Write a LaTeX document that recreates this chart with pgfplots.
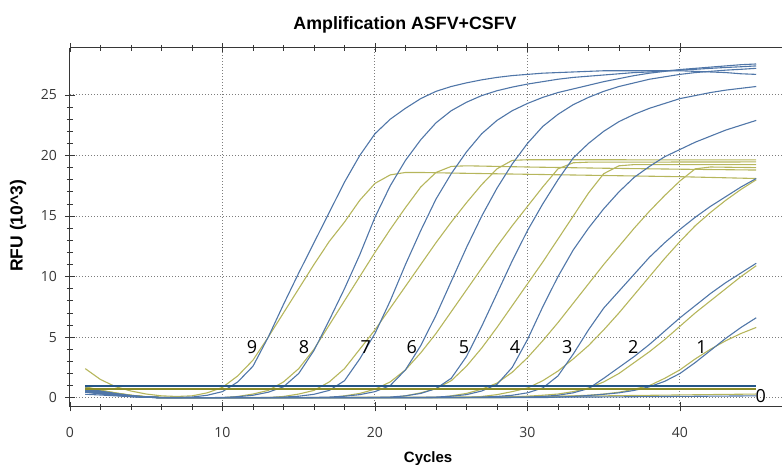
\documentclass[border=0pt]{standalone}
\usepackage{fontspec}
\setmainfont{Liberation Sans}
\newfontfamily\tickfont{Open Sans}
\usepackage{pgfplots}
\pgfplotsset{compat=1.18}
\definecolor{cblue}{RGB}{80,118,168}
\definecolor{colive}{RGB}{182,182,92}
\definecolor{tblue}{RGB}{35,85,135}
\definecolor{tolive}{RGB}{140,140,40}
\definecolor{axgray}{RGB}{55,55,55}
\definecolor{gridgray}{RGB}{125,125,125}
\begin{document}
\begin{tikzpicture}
\path[use as bounding box] (0,0) rectangle (782pt,465pt);
\begin{axis}[
  at={(70pt,58pt)}, anchor=south west,
  scale only axis, width=712pt, height=359pt,
  xmin=0, xmax=46.69, ymin=-0.77, ymax=28.88,
  axis x line=box, axis y line=left,
  x axis line style={-, axgray, line width=1pt},
  y axis line style={-, axgray, line width=1pt},
  xtick={0,10,20,30,40}, ytick={0,5,10,15,20,25},
  minor x tick num=4, minor y tick num=4,
  tick align=center, major tick length=9pt, minor tick length=6pt,
  tick style={axgray, line width=0.8pt},
  grid=major, major grid style={gridgray, line width=1pt, dash pattern=on 1pt off 2pt},
  /pgf/number format/assume math mode=true,
  tick label style={font=\tickfont\fontsize{14}{16}\selectfont, text=axgray},
  yticklabel style={xshift=-5pt},
  xticklabel style={yshift=-12pt},
  title={Amplification ASFV+CSFV},
  title style={at={(axis description cs:0.4705,1.049)}, anchor=center, yshift=0pt, font=\bfseries\fontsize{17.8}{20}\selectfont},
  xlabel={Cycles},
  xlabel style={at={(axis description cs:0.503,-0.145)}, anchor=center, font=\bfseries\fontsize{15}{17}\selectfont},
  ylabel={RFU (10\textasciicircum 3)},
  ylabel style={at={(axis description cs:-0.073,0.505)}, anchor=center, font=\bfseries\fontsize{17.5}{19}\selectfont},
  every axis plot/.append style={line width=1.1pt, line join=round},
]
% ---------- CSFV (olive) ----------
\addplot[colive] coordinates {(1,2.4)(2,1.5)(3,0.9)(4,0.55)(5,0.3)(6,0.15)(7,0.1)(8,0.15)(9,0.4)(10,0.85)(11,1.8)(12,3.1)(13,5.0)(14,7.0)(15,9.0)(16,11.0)(17,12.9)(18,14.5)(19,16.3)(20,17.7)(21,18.4)(22,18.6)(23,18.6)(25,18.55)(30,18.45)(35,18.35)(40,18.25)(45,18.1)};
\addplot[colive] coordinates {(1,0.85)(2,0.6)(3,0.38)(4,0.2)(5,0.08)(6,0.02)(7,0)(10,0)(11,0.1)(12,0.3)(13,0.6)(14,1.3)(15,2.4)(16,4.0)(17,6.0)(18,8.0)(19,10.0)(20,12.0)(21,13.9)(22,15.7)(23,17.4)(24,18.6)(25,19.1)(26,19.15)(30,19.05)(35,18.95)(40,18.87)(45,18.8)};
\addplot[colive] coordinates {(1,0.8)(2,0.56)(3,0.35)(4,0.18)(5,0.07)(6,0)(13,0)(14,0.1)(15,0.3)(16,0.6)(17,1.3)(18,2.4)(19,4.0)(20,5.6)(21,7.4)(22,9.2)(23,11.0)(24,12.8)(25,14.5)(26,16.1)(27,17.6)(28,18.9)(29,19.6)(30,19.65)(45,19.64)};
\addplot[colive] coordinates {(1,0.75)(2,0.5)(3,0.3)(4,0.15)(5,0.05)(6,0)(17,0)(18,0.15)(19,0.35)(20,0.7)(21,1.3)(22,2.3)(23,3.7)(24,5.3)(25,7.1)(26,8.9)(27,10.7)(28,12.5)(29,14.2)(30,15.8)(31,17.4)(32,18.9)(33,19.4)(34,19.45)(45,19.47)};
\addplot[colive] coordinates {(1,0.7)(2,0.48)(3,0.3)(4,0.15)(5,0.05)(6,0)(21,0)(22,0.15)(23,0.4)(24,0.75)(25,1.4)(26,2.6)(27,4.1)(28,5.8)(29,7.6)(30,9.4)(31,11.2)(32,13.1)(33,15.0)(34,16.9)(35,18.5)(36,19.15)(37,19.25)(45,19.25)};
\addplot[colive] coordinates {(1,0.9)(2,0.62)(3,0.4)(4,0.2)(5,0.08)(6,0)(24,0)(25,0.15)(26,0.35)(27,0.7)(28,1.2)(29,2.1)(30,3.3)(31,4.7)(32,6.2)(33,7.8)(34,9.4)(35,11.0)(36,12.5)(37,14.0)(38,15.4)(39,16.7)(40,17.9)(41,18.9)(42,19.05)(45,19.0)};
\addplot[colive] coordinates {(1,0.65)(2,0.45)(3,0.28)(4,0.14)(5,0.05)(6,0)(26,0)(27,0.1)(28,0.25)(29,0.5)(30,0.8)(31,1.4)(32,2.2)(33,3.2)(34,4.3)(35,5.6)(36,7.0)(37,8.5)(38,10.0)(39,11.5)(40,12.9)(41,14.2)(42,15.3)(43,16.3)(44,17.2)(45,18.0)};
\addplot[colive] coordinates {(1,0.8)(2,0.55)(3,0.35)(4,0.18)(5,0.06)(6,0)(28,0)(29,0.05)(30,0.12)(31,0.2)(32,0.3)(33,0.5)(34,0.8)(35,1.3)(36,2.0)(37,2.9)(38,3.8)(39,4.8)(40,5.9)(41,7.0)(42,8.0)(43,9.0)(44,10.0)(45,10.9)};
\addplot[colive] coordinates {(1,0.7)(2,0.5)(3,0.32)(4,0.16)(5,0.06)(6,0)(28,0)(30,0.05)(32,0.1)(34,0.2)(35,0.3)(36,0.45)(37,0.7)(38,1.0)(39,1.6)(40,2.3)(41,3.2)(42,4.0)(43,4.7)(44,5.3)(45,5.8)};
\addplot[colive] coordinates {(1,0.6)(2,0.42)(3,0.26)(4,0.13)(6,0.03)(8,0)(25,0.05)(35,0.15)(45,0.3)};
% ---------- ASFV (blue) ----------
\addplot[cblue] coordinates {(1,0.7)(2,0.5)(3,0.3)(4,0.15)(5,0.05)(6,0)(7,0)(8,0.05)(9,0.2)(10,0.5)(11,1.3)(12,2.6)(13,5.0)(14,7.7)(15,10.3)(16,12.8)(17,15.3)(18,17.8)(19,20.0)(20,21.8)(21,23.0)(22,23.9)(23,24.7)(24,25.3)(25,25.7)(26,26.0)(27,26.25)(28,26.45)(29,26.6)(30,26.7)(31,26.8)(32,26.85)(33,26.9)(34,26.95)(35,27.0)(40,27.0)(41,26.95)(42,26.9)(43,26.85)(44,26.75)(45,26.7)};
\addplot[cblue] coordinates {(1,0.6)(2,0.4)(3,0.25)(4,0.12)(5,0.05)(6,0)(9,0)(10,0.02)(11,0.08)(12,0.2)(13,0.45)(14,0.9)(15,2.0)(16,3.9)(17,6.4)(18,9.0)(19,11.8)(20,14.9)(21,17.5)(22,19.6)(23,21.3)(24,22.7)(25,23.7)(26,24.4)(27,24.95)(28,25.35)(29,25.65)(30,25.9)(31,26.1)(32,26.3)(33,26.45)(34,26.55)(35,26.65)(36,26.75)(37,26.85)(38,26.9)(39,27.0)(40,27.05)(41,27.12)(42,27.2)(43,27.27)(44,27.33)(45,27.4)};
\addplot[cblue] coordinates {(1,0.55)(2,0.4)(3,0.25)(4,0.12)(5,0.05)(6,0)(12,0)(13,0.02)(14,0.05)(15,0.12)(16,0.28)(17,0.6)(18,1.4)(19,3.2)(20,5.3)(21,8.0)(22,11.0)(23,13.8)(24,16.4)(25,18.5)(26,20.3)(27,21.8)(28,22.9)(29,23.7)(30,24.3)(31,24.8)(32,25.2)(33,25.5)(34,25.8)(35,26.1)(36,26.35)(37,26.6)(38,26.8)(39,26.95)(40,27.1)(41,27.2)(42,27.3)(43,27.4)(44,27.5)(45,27.56)};
\addplot[cblue] coordinates {(1,0.8)(2,0.55)(3,0.35)(4,0.18)(5,0.07)(6,0)(15,0)(16,0.02)(17,0.05)(18,0.12)(19,0.25)(20,0.5)(21,1.0)(22,2.3)(23,4.3)(24,6.8)(25,9.6)(26,12.4)(27,15.0)(28,17.3)(29,19.3)(30,21.0)(31,22.4)(32,23.4)(33,24.2)(34,24.8)(35,25.3)(36,25.7)(37,26.0)(38,26.3)(39,26.5)(40,26.7)(41,26.85)(42,26.95)(43,27.05)(44,27.12)(45,27.2)};
\addplot[cblue] coordinates {(1,0.5)(2,0.35)(3,0.2)(4,0.1)(5,0.03)(6,0)(19,0)(20,0.02)(21,0.05)(22,0.15)(23,0.35)(24,0.75)(25,1.6)(26,3.4)(27,5.9)(28,8.6)(29,11.3)(30,13.8)(31,16.0)(32,18.0)(33,19.8)(34,21.0)(35,22.0)(36,22.8)(37,23.4)(38,23.9)(39,24.3)(40,24.7)(41,24.95)(42,25.2)(43,25.4)(44,25.55)(45,25.7)};
\addplot[cblue] coordinates {(1,0.65)(2,0.45)(3,0.28)(4,0.14)(5,0.05)(6,0)(22,0)(23,0.02)(24,0.05)(25,0.12)(26,0.25)(27,0.55)(28,1.1)(29,2.5)(30,4.8)(31,7.5)(32,10.0)(33,12.2)(34,14.0)(35,15.6)(36,17.0)(37,18.2)(38,19.1)(39,19.9)(40,20.5)(41,21.1)(42,21.6)(43,22.1)(44,22.5)(45,22.9)};
\addplot[cblue] coordinates {(1,0.45)(2,0.3)(3,0.2)(4,0.1)(5,0.03)(6,0)(25,0)(26,0.02)(27,0.05)(28,0.1)(29,0.2)(30,0.4)(31,0.8)(32,1.8)(33,3.6)(34,5.6)(35,7.4)(36,8.8)(37,10.2)(38,11.6)(39,12.8)(40,13.9)(41,14.9)(42,15.8)(43,16.6)(44,17.4)(45,18.1)};
\addplot[cblue] coordinates {(1,0.6)(2,0.42)(3,0.26)(4,0.13)(5,0.05)(6,0)(28,0)(29,0.02)(30,0.05)(31,0.1)(32,0.2)(33,0.4)(34,0.75)(35,1.6)(36,2.5)(37,3.4)(38,4.4)(39,5.5)(40,6.6)(41,7.6)(42,8.6)(43,9.5)(44,10.3)(45,11.1)};
\addplot[cblue] coordinates {(1,0.5)(2,0.35)(3,0.22)(4,0.1)(5,0.04)(6,0)(31,0)(32,0.05)(33,0.1)(34,0.18)(35,0.28)(36,0.4)(37,0.6)(38,0.9)(39,1.35)(40,2.0)(41,2.9)(42,3.9)(43,4.9)(44,5.8)(45,6.6)};
\addplot[cblue] coordinates {(1,0.28)(2,0.22)(3,0.15)(4,0.08)(6,0.02)(10,0)(25,0.02)(35,0.06)(45,0.15)};
% ---------- thresholds ----------
\addplot[tolive, line width=2.6pt] coordinates {(1,0.73)(45,0.73)};
\addplot[tblue, line width=2.6pt] coordinates {(1,0.95)(45,0.95)};
% ---------- labels ----------
\begin{scope}[every node/.style={font=\tickfont\fontsize{18}{20}\selectfont, text=black}]
\node at (axis cs:11.93,4.19) {9};
\node at (axis cs:15.34,4.19) {8};
\node at (axis cs:19.39,4.19) {7};
\node at (axis cs:22.41,4.16) {6};
\node at (axis cs:25.84,4.19) {5};
\node at (axis cs:29.18,4.19) {4};
\node at (axis cs:32.61,4.19) {3};
\node at (axis cs:36.94,4.19) {2};
\node at (axis cs:41.42,4.19) {1};
\node at (axis cs:45.3,0.17) {0};
\end{scope}
\end{axis}
\end{tikzpicture}
\end{document}
